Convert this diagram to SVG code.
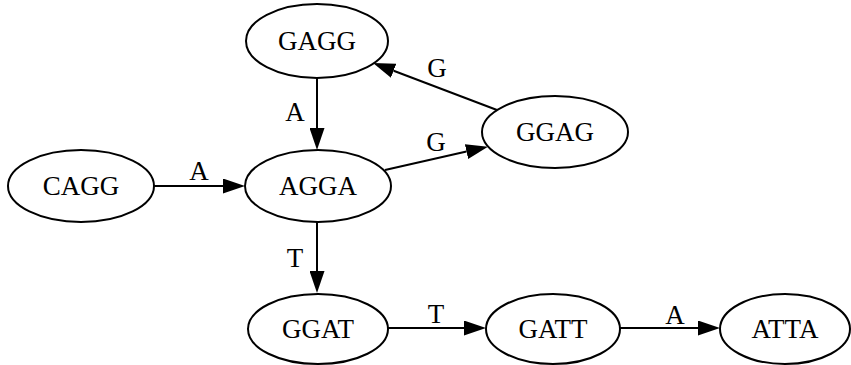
<svg xmlns="http://www.w3.org/2000/svg" width="851" height="365" viewBox="0 0 851 365">
<style>
.node ellipse{fill:#fff;stroke:#000;stroke-width:2}
text{font-family:"Liberation Serif","Times New Roman",serif;font-size:27px;fill:#000;text-anchor:middle}
.edge path{fill:none;stroke:#000;stroke-width:2}
</style>
<defs>
<marker id="arr" viewBox="0 0 22 15" refX="0" refY="7.5" markerWidth="22" markerHeight="15" markerUnits="userSpaceOnUse" orient="auto">
<path d="M0,0 L22,7.5 L0,15 z" fill="#000"/>
</marker>
</defs>
<rect width="851" height="365" fill="#fff"/>
<g id="edges">
<g class="edge" id="GAGG-AGGA"><path d="M317,78 L317,128" marker-end="url(#arr)"/><text x="295" y="121">A</text></g>
<g class="edge" id="AGGA-GGAT"><path d="M317,222 L317,271" marker-end="url(#arr)"/><text x="295" y="267">T</text></g>
<g class="edge" id="CAGG-AGGA"><path d="M154,186 L223,186" marker-end="url(#arr)"/><text x="199" y="180">A</text></g>
<g class="edge" id="GGAT-GATT"><path d="M388,328 L464,328" marker-end="url(#arr)"/><text x="436" y="323">T</text></g>
<g class="edge" id="GATT-ATTA"><path d="M620,328 L698,328" marker-end="url(#arr)"/><text x="675" y="324">A</text></g>
<g class="edge" id="AGGA-GGAG"><path d="M385,170 L466.5,151.6" marker-end="url(#arr)"/><text x="436" y="151">G</text></g>
<g class="edge" id="GGAG-GAGG"><path d="M497,110 L393.6,70.8" marker-end="url(#arr)"/><text x="437" y="77">G</text></g>
</g>
<g class="node" id="GAGG"><ellipse cx="317" cy="41" rx="71" ry="37"/><text x="317" y="50">GAGG</text></g>
<g class="node" id="GGAG"><ellipse cx="555" cy="132" rx="73" ry="36"/><text x="555" y="141">GGAG</text></g>
<g class="node" id="CAGG"><ellipse cx="81" cy="186" rx="73" ry="36"/><text x="81" y="195">CAGG</text></g>
<g class="node" id="AGGA"><ellipse cx="318" cy="186" rx="73" ry="36"/><text x="318" y="195">AGGA</text></g>
<g class="node" id="GGAT"><ellipse cx="318" cy="329" rx="70" ry="35"/><text x="318" y="338">GGAT</text></g>
<g class="node" id="GATT"><ellipse cx="553" cy="329" rx="67" ry="35"/><text x="553" y="338">GATT</text></g>
<g class="node" id="ATTA"><ellipse cx="785" cy="329" rx="65" ry="35"/><text x="785" y="338">ATTA</text></g>
</svg>
